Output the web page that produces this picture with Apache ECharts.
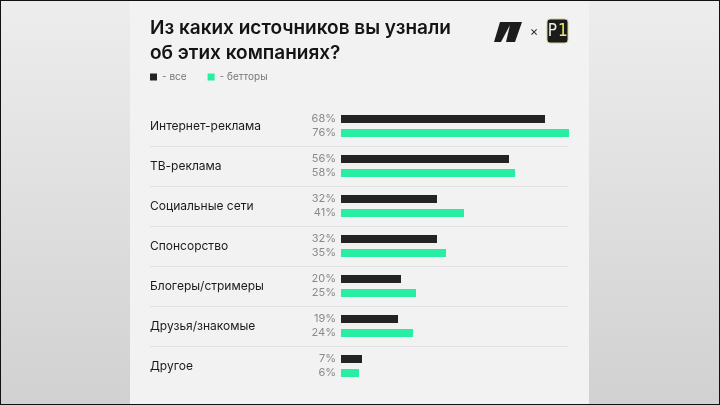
<!DOCTYPE html>
<html>
<head>
<meta charset="utf-8">
<script src="https://cdn.jsdelivr.net/npm/echarts@6/dist/echarts.min.js"></script>
<style>
	html, body { margin: 0; padding: 0; }
	#frame {
		position: absolute; left: 0; top: 0; width: 720px; height: 405px;
		box-sizing: border-box; border: 1px solid #111;
		background: linear-gradient(to bottom, #ededed, #d1d1d1);
	}
	#main {
		position: absolute; left: 130px; top: 1px; width: 459px; height: 403px;
		background: #f2f2f2;
	}
</style>
</head>
<body>
<div id="frame"></div>
<div id="main"></div>
<script>
var categories = ['Интернет-реклама', 'ТВ-реклама', 'Социальные сети', 'Спонсорство', 'Блогеры/стримеры', 'Друзья/знакомые', 'Другое'];
var allValues = [68, 56, 32, 32, 20, 19, 7];
var bettorValues = [76, 58, 41, 35, 25, 24, 6];
var seriesNames = ['все', 'бетторы'];

var BLACK = '#232323';
var GREEN = '#27eea2';
var FONT = 'Inter, "Noto Sans", sans-serif';
var NARROW = '"Liberation Sans Narrow", "DejaVu Sans Condensed", sans-serif';

var chart = echarts.init(document.getElementById('main'));

function barSeries(name, data, color) {
	return {
		name: name,
		type: 'bar',
		xAxisIndex: 0,
		yAxisIndex: 0,
		data: data,
		barWidth: 8,
		barGap: '75%',
		itemStyle: { color: color },
		label: {
			show: true,
			position: 'left',
			distance: 5,
			formatter: '{c}%',
			color: '#8a8a8a',
			fontSize: 11,
			fontFamily: FONT
		},
		emphasis: { disabled: true }
	};
}

var option = {
	animation: false,
	title: {
		text: 'Из каких источников вы узнали\nоб этих компаниях?',
		left: 20,
		top: 15,
		padding: 0,
		textStyle: {
			fontFamily: FONT,
			fontSize: 19,
			fontWeight: 600,
			lineHeight: 25,
			color: '#141414'
		}
	},
	legend: {
		left: 20,
		top: 71,
		padding: 0,
		icon: 'rect',
		itemWidth: 7,
		itemHeight: 7,
		itemGap: 21,
		data: seriesNames,
		formatter: function(name) { return '- ' + name; },
		textStyle: { color: '#777', fontSize: 10, fontFamily: FONT }
	},
	grid: [
		{ left: 211, top: 105, width: 240, height: 280 },
		{ left: 20, top: 105, width: 418, height: 280 }
	],
	xAxis: [
		{ gridIndex: 0, type: 'value', min: 0, max: 80, show: false },
		{ gridIndex: 1, type: 'value', min: 0, max: 100, show: false }
	],
	yAxis: [
		{
			gridIndex: 0,
			type: 'category',
			inverse: true,
			data: categories,
			axisLine: { show: false },
			axisTick: { show: false },
			splitLine: { show: false },
			axisLabel: {
				align: 'left',
				margin: 191,
				color: '#1a1a1a',
				fontSize: 12,
				fontFamily: FONT
			}
		},
		{
			gridIndex: 1,
			type: 'category',
			inverse: true,
			data: categories,
			axisLine: { show: false },
			axisTick: { show: false },
			axisLabel: { show: false },
			splitLine: {
				show: true,
				showMinLine: false,
				showMaxLine: false,
				lineStyle: { color: '#e1e1e1', width: 1 }
			}
		}
	],
	series: [
		barSeries(seriesNames[0], allValues, BLACK),
		barSeries(seriesNames[1], bettorValues, GREEN)
	],
	color: [BLACK, GREEN],
	graphic: [
		// логотип слева
		{
			type: 'polygon',
			shape: { points: [[364, 41], [370, 21], [392, 21], [385, 41]] },
			style: { fill: '#1c1c1c' }
		},
		{
			type: 'polygon',
			shape: { points: [[371, 41], [380, 24], [376, 41]] },
			style: { fill: '#f2f2f2' }
		},
		{
			type: 'text',
			x: 404, y: 31,
			style: { text: '×', fill: '#333', fontSize: 13, fontFamily: FONT, align: 'center', verticalAlign: 'middle' }
		},
		// логотип P1
		{
			type: 'rect',
			shape: { x: 417, y: 18, width: 21, height: 24, r: 3 },
			style: { fill: '#1b1b1b', stroke: '#cfcf9a', lineWidth: 1 }
		},
		{
			type: 'text',
			x: 427, y: 31,
			style: { text: 'P', fill: '#f0f0e0', fontSize: 17, fontFamily: NARROW, align: 'right', verticalAlign: 'middle' }
		},
		{
			type: 'text',
			x: 428, y: 31,
			style: { text: '1', fill: '#eeee70', fontSize: 17, fontFamily: NARROW, align: 'left', verticalAlign: 'middle' }
		}
	]
};

chart.setOption(option);
</script>
</body>
</html>
